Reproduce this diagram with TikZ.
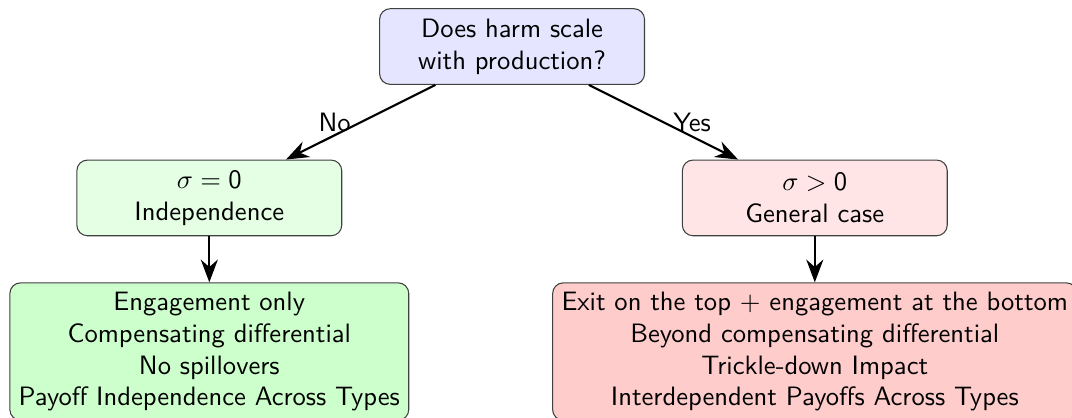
\documentclass[tikz,border=0pt]{standalone}
\usetikzlibrary{arrows.meta}
\begin{document}
\begin{tikzpicture}[
  font=\sffamily,
  box/.style={draw=black!75, rounded corners, align=center, minimum width=3.5cm, minimum height=1cm},
  arr/.style={thick, -{Stealth[length=3mm]}}
]
\useasboundingbox (-192.5pt,17.5pt) rectangle ++(403pt,-156.8pt);
\node[box, fill=blue!10] (q) at (0,0) {Does harm scale\\with production?};
\node[box, fill=green!10] (ind) at (-4,-2) {$\sigma = \mathsf{0}$\\Independence};
\node[box, fill=red!10] (gen) at (4,-2) {$\sigma > \mathsf{0}$\\General case};
\node[box, fill=green!20] (ind2) at (-4,-4.03) {Engagement only\\Compensating differential\\No spillovers\\Payoff Independence Across Types};
\node[box, fill=red!20] (gen2) at (4,-4.03) {Exit on the top $+$ engagement at the bottom\\Beyond compensating differential\\Trickle-down Impact\\Interdependent Payoffs Across Types};
\draw[arr] (q) -- node[midway, left] {No} (ind);
\draw[arr] (q) -- node[midway, right] {Yes} (gen);
\draw[arr] (ind) -- (ind2);
\draw[arr] (gen) -- (gen2);
\end{tikzpicture}
\end{document}
